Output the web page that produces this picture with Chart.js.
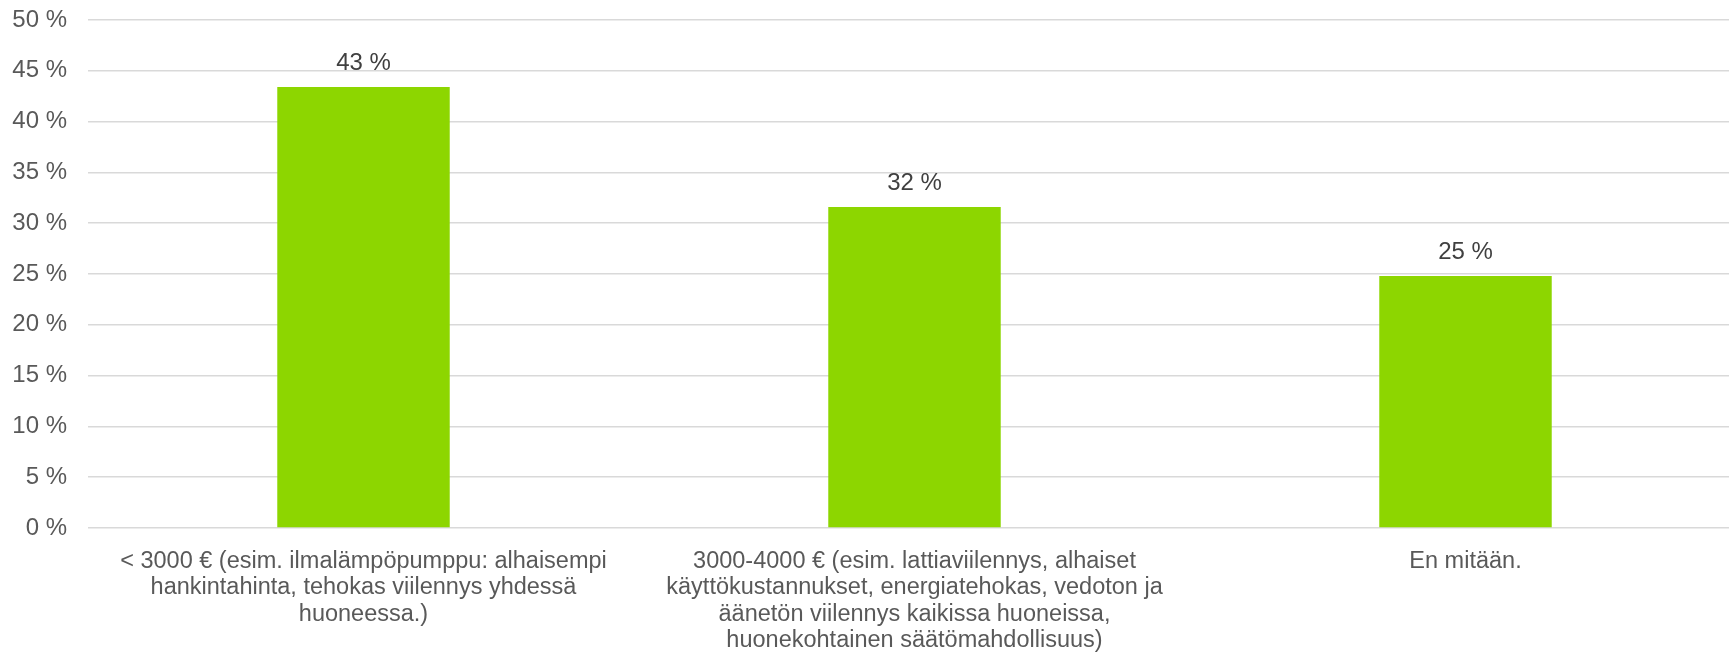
<!DOCTYPE html>
<html>
<head>
<meta charset="utf-8">
<script src="https://cdn.jsdelivr.net/npm/chart.js@4/dist/chart.umd.min.js"></script>
<style>
  html, body { margin: 0; padding: 0; background: #fff; overflow: hidden; }
  #wrap { position: relative; width: 1760px; height: 652px; }
</style>
</head>
<body>
<div id="wrap"><canvas id="chart"></canvas></div>
<script>
// data
const categories = [
  ["< 3000 € (esim. ilmalämpöpumppu: alhaisempi", "hankintahinta, tehokas viilennys yhdessä", "huoneessa.)"],
  ["3000-4000 € (esim. lattiaviilennys, alhaiset", "käyttökustannukset, energiatehokas, vedoton ja", "äänetön viilennys kaikissa huoneissa,", "huonekohtainen säätömahdollisuus)"],
  ["En mitään."]
];
const shares = [43.4, 31.6, 24.8];
const yTicks = [0, 5, 10, 15, 20, 25, 30, 35, 40, 45, 50];

const FONT = '"Liberation Sans", Arial, sans-serif';

// labels above bars (no datalabels plugin available)
const valueLabels = {
  id: "valueLabels",
  afterDatasetsDraw(chart) {
    const ctx = chart.ctx;
    const meta = chart.getDatasetMeta(0);
    ctx.save();
    ctx.font = "24px " + FONT;
    ctx.fillStyle = "#404040";
    ctx.textAlign = "center";
    ctx.textBaseline = "middle";
    meta.data.forEach((bar, i) => {
      ctx.fillText(Math.round(shares[i]) + " %", bar.x, bar.y - 24);
    });
    ctx.restore();
  }
};

new Chart(document.getElementById("chart"), {
  type: "bar",
  data: {
    labels: categories,
    datasets: [{
      data: shares,
      backgroundColor: "#8dd600",
      categoryPercentage: 1,
      barPercentage: 0.313
    }]
  },
  options: {
    responsive: true,
    maintainAspectRatio: false,
    animation: false,
    devicePixelRatio: 1,
    layout: { padding: { top: 20, right: 19, left: 0, bottom: 0 } },
    plugins: { legend: { display: false }, tooltip: { enabled: false } },
    scales: {
      x: {
        grid: { display: false },
        border: { display: false },
        ticks: {
          autoSkip: false, maxRotation: 0, minRotation: 0,
          padding: 12,
          color: "#595959",
          font: { family: FONT, size: 23.5, lineHeight: 1.128 }
        },
        afterFit(scale) { scale.height = 124; }
      },
      y: {
        min: 0, max: 50,
        afterBuildTicks(scale) { scale.ticks = yTicks.map(v => ({ value: v })); },
        grid: { color: "#d9d9d9", lineWidth: 1.5, drawTicks: false },
        border: { display: false },
        ticks: {
          padding: 21,
          color: "#595959",
          font: { family: FONT, size: 24 },
          callback: v => v + " %"
        },
        afterFit(scale) {
          scale.width = 88;
          scale.paddingTop = 0;
          scale.paddingBottom = 0;
        }
      }
    }
  },
  plugins: [valueLabels]
});
</script>
</body>
</html>
